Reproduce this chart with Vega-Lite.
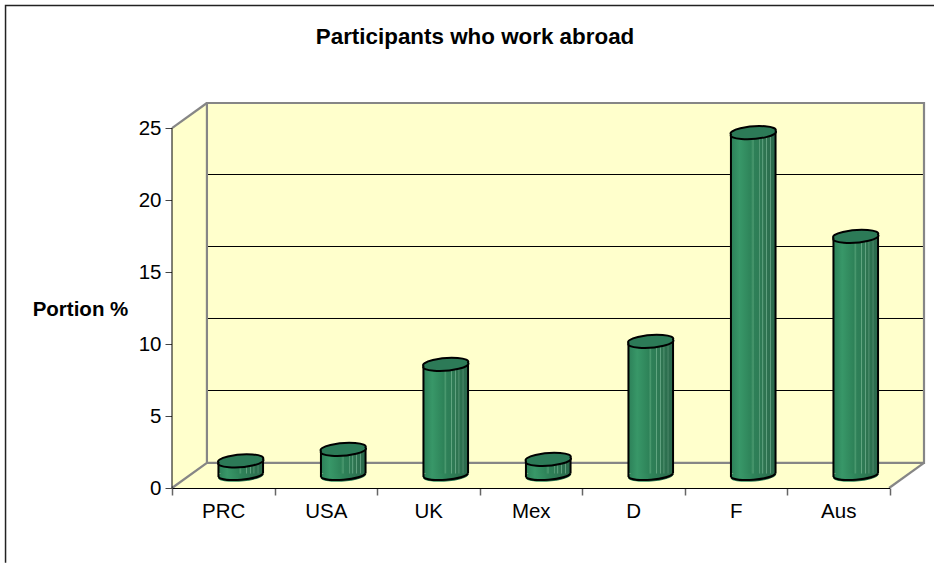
{
"$schema":"https://vega.github.io/schema/vega-lite/v6.json",
"width":752,"height":385,"autosize":{"type":"none"},
"padding":{"left":172,"top":103,"right":10,"bottom":75},
"background":"white",
"config":{"view":{"stroke":null},"font":"Liberation Sans",
 "axisY":{"domain":false,"grid":false,"tickSize":7,"tickColor":"#444","tickWidth":1,"labelFont":"Liberation Sans","labelFontSize":20.5,"labelColor":"#000","labelPadding":4,"titleFont":"Liberation Sans","titleFontSize":20.5,"titleFontWeight":"bold","titleColor":"#000"}},
"title":{"text":"Participants who work abroad","frame":"group","anchor":"middle","dx":-73,"offset":-64,"baseline":"alphabetic","font":"Liberation Sans","fontSize":22.4,"fontWeight":"bold","color":"#000"},
"resolve":{"scale":{"x":"independent"}},
"layer":[
{"encoding":{
  "x":{"field":"x","type":"quantitative","scale":{"domain":[0,7.341],"range":[0,752],"nice":false,"zero":false},"axis":null},
  "y":{"field":"y","type":"quantitative","scale":{"domain":[0,26.75],"nice":false},
    "axis":{"values":[0,5,10,15,20,25],"title":"Portion %","titleAngle":0,"titleAlign":"center","titleBaseline":"middle","titleX":-92,"titleY":206}}},
 "layer":[
  {"data":{"values":[{"x":0,"y":25,"lo":0},{"x":0.341,"y":26.75,"lo":0},{"x":7,"y":26.75,"lo":0},{"x":7.341,"y":26.75,"lo":1.75}]},
   "mark":{"type":"area","fill":"#FFFFCC","interpolate":"linear"},
   "encoding":{"y2":{"field":"lo"}}},
  {"data":{"values":[
    {"g":"a","x":0.341,"y":6.774},{"g":"a","x":7.341,"y":6.774},
    {"g":"b","x":0.341,"y":11.777},{"g":"b","x":7.341,"y":11.777},
    {"g":"c","x":0.341,"y":16.779},{"g":"c","x":7.341,"y":16.779},
    {"g":"d","x":0.341,"y":21.782},{"g":"d","x":7.341,"y":21.782}]},
   "mark":{"type":"line","stroke":"#000","strokeWidth":1},
   "encoding":{"detail":{"field":"g"}}},
  {"data":{"values":[
    {"g":"wall","o":1,"x":0,"y":0},{"g":"wall","o":2,"x":0.341,"y":1.75},{"g":"wall","o":3,"x":7.341,"y":1.75},{"g":"wall","o":4,"x":7.341,"y":26.75},{"g":"wall","o":5,"x":0.341,"y":26.75},{"g":"wall","o":6,"x":0.341,"y":1.75},
    {"g":"topd","o":1,"x":0,"y":25},{"g":"topd","o":2,"x":0.341,"y":26.75},
    {"g":"rd","o":1,"x":7,"y":0},{"g":"rd","o":2,"x":7.341,"y":1.75}]},
   "mark":{"type":"line","stroke":"#868686","strokeWidth":2.2},
   "encoding":{"detail":{"field":"g"},"order":{"field":"o"}}},
  {"data":{"values":[
    {"g":"ax","o":1,"x":0,"y":0},{"g":"ax","o":2,"x":0,"y":25}]},
   "mark":{"type":"line","stroke":"#000","strokeWidth":1},
   "encoding":{"detail":{"field":"g"},"order":{"field":"o"}}},
  {"data":{"values":[
    {"g":"fr","o":1,"x":-1.625,"y":-5.2},{"g":"fr","o":2,"x":-1.625,"y":33.53},{"g":"fr","o":3,"x":7.44,"y":33.53}]},
   "mark":{"type":"line","stroke":"#222","strokeWidth":1.5},
   "encoding":{"detail":{"field":"g"},"order":{"field":"o"}}}
 ]},
{"data":{"values":[
  {"country":"PRC","share":1.0},{"country":"USA","share":1.8},{"country":"UK","share":7.7},{"country":"Mex","share":1.1},{"country":"D","share":9.3},{"country":"F","share":23.8},{"country":"Aus","share":16.6}]},
 "encoding":{
  "x":{"field":"country","type":"nominal","sort":null,"scale":{"domain":["PRC","USA","UK","Mex","D","F","Aus"],"range":[0,717.5],"paddingInner":0,"paddingOuter":0},
    "axis":{"orient":"bottom","title":null,"grid":false,"labelAngle":0,"labelFont":"Liberation Sans","labelFontSize":20.5,"labelColor":"#000","labelPadding":6,"tickBand":"extent","tickSize":7,"tickColor":"#666","tickWidth":1.5,"domainColor":"#000","domainWidth":1,"zindex":1}},
  "y":{"field":"share","type":"quantitative","scale":{"domain":[0,26.75],"nice":false},
    "axis":{"values":[0,5,10,15,20,25],"title":"Portion %","titleAngle":0,"titleAlign":"center","titleBaseline":"middle","titleX":-92,"titleY":206}}},
 "layer":[
  {"mark":{"type":"point","shape":"M-22.3,1.8 A22.7,5.4 -4.6 1 1 22.3,-1.8 A22.7,5.4 -4.6 1 1 -22.3,1.8 Z","size":4,"filled":true,"opacity":1,"strokeWidth":0,"xOffset":17.5,"yOffset":-12.75,
    "fill":{"gradient":"linear","x1":0,"x2":1,"y1":0,"y2":0,"stops":[{"offset":0,"color":"#2C8058"},{"offset":0.2,"color":"#389768"},{"offset":0.5,"color":"#2E8359"},{"offset":1,"color":"#2C6A4D"}]}},
   "encoding":{"y":{"datum":0,"scale":{"domain":[0,26.75],"nice":false},"title":"Portion %","axis":{"values":[0,5,10,15,20,25],"title":"Portion %","titleAngle":0,"titleAlign":"center","titleBaseline":"middle","titleX":-92,"titleY":206}}}},
  {"mark":{"type":"bar","width":45,"xOffset":17.5,"yOffset":-12.75,"y2Offset":-14.5,"strokeWidth":0,
    "fill":{"gradient":"linear","x1":0,"x2":1,"y1":0,"y2":0,"stops":[{"offset":0,"color":"#2C8058"},{"offset":0.2,"color":"#389768"},{"offset":0.45,"color":"#2E8359"},{"offset":0.5,"color":"#4C9A70"},{"offset":0.52,"color":"#2E8058"},{"offset":0.62,"color":"#2E7D56"},{"offset":0.63,"color":"#6FB08C"},{"offset":0.65,"color":"#2E7B55"},{"offset":0.7,"color":"#2E7853"},{"offset":0.71,"color":"#7AB898"},{"offset":0.73,"color":"#2E7551"},{"offset":0.78,"color":"#2E7350"},{"offset":0.79,"color":"#6FAC8C"},{"offset":0.81,"color":"#2D7250"},{"offset":0.87,"color":"#2C6E4E"},{"offset":0.88,"color":"#6AA486"},{"offset":0.9,"color":"#2C6C4D"},{"offset":1,"color":"#2C6A4D"}]}},
   "encoding":{"y2":{"datum":0}}},
  {"mark":{"type":"point","shape":"M22.3,-1.8 A22.7,5.4 -4.6 0 1 -22.3,1.8","size":4,"filled":false,"fill":null,"opacity":1,"stroke":"#000","strokeWidth":2,"xOffset":17.5,"yOffset":-12.75},
   "encoding":{"y":{"datum":0,"scale":{"domain":[0,26.75],"nice":false},"title":"Portion %","axis":{"values":[0,5,10,15,20,25],"title":"Portion %","titleAngle":0,"titleAlign":"center","titleBaseline":"middle","titleX":-92,"titleY":206}}}},
  {"mark":{"type":"rule","stroke":"#000","strokeWidth":2,"xOffset":-4.8,"yOffset":-10.95,"y2Offset":-10.95},
   "encoding":{"y2":{"datum":0}}},
  {"mark":{"type":"rule","stroke":"#000","strokeWidth":2,"xOffset":39.8,"yOffset":-14.55,"y2Offset":-14.55},
   "encoding":{"y2":{"datum":0}}},
  {"mark":{"type":"point","shape":"M-22.3,1.8 A22.7,5.4 -4.6 1 1 22.3,-1.8 A22.7,5.4 -4.6 1 1 -22.3,1.8 Z","size":4,"filled":true,"opacity":1,"fill":"#2C7A57","stroke":"#000","strokeWidth":2,"xOffset":17.5,"yOffset":-12.75}}
 ]}
]}
